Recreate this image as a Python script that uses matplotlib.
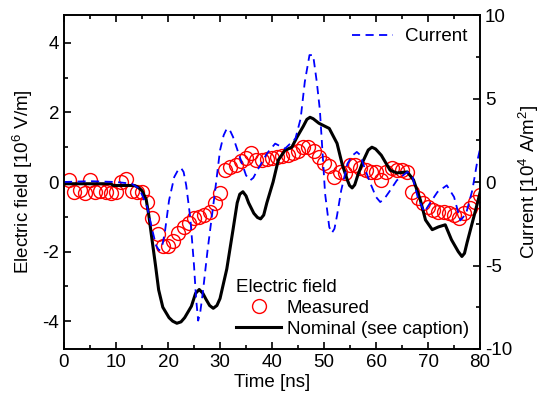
import matplotlib
matplotlib.use('Agg')
import matplotlib.pyplot as plt
from matplotlib.ticker import MultipleLocator

# measured electric field, 10^6 V/m, one point per ns
t_meas = list(range(1, 81))
e_meas = [0.05, -0.3, -0.22, -0.33, 0.05, -0.3, -0.25, -0.3, -0.33, -0.3,
          0.0, 0.08, -0.25, -0.3, -0.3, -0.57, -1.03, -1.5, -1.85, -1.85,
          -1.7, -1.46, -1.3, -1.17, -1.03, -1.0, -0.94, -0.86, -0.6, -0.31,
          0.34, 0.43, 0.49, 0.6, 0.68, 0.83, 0.63, 0.63, 0.65, 0.68,
          0.71, 0.74, 0.77, 0.83, 0.9, 1.0, 1.0, 0.9, 0.71, 0.54,
          0.45, 0.14, 0.3, 0.26, 0.49, 0.5, 0.4, 0.34, 0.29, 0.3,
          0.06, 0.3, 0.4, 0.34, 0.34, 0.29, -0.3, -0.46, -0.6, -0.72,
          -0.8, -0.86, -0.86, -0.88, -0.94, -1.03, -0.9, -0.75, -0.57, -0.37]

# nominal electric field
t_nom = [0, 9, 9.5, 13.5, 14.0, 14.5, 15.0, 15.8, 16.3, 17.0, 17.6, 18.2, 19.0, 20.2,
         20.9, 21.7, 22.5, 23.2, 24.5, 25.3, 26.0, 26.7, 27.3, 28.0, 28.7, 29.4,
         30.0, 31.3, 32.5, 33.3, 33.8, 34.4, 35.0, 35.5, 36.5, 37.2, 37.8, 38.4,
         39.0, 40.2, 41.2, 42.5, 43.8, 44.8, 46.0, 46.7, 47.3, 47.9, 49.0, 51.0,
         52.5, 53.5, 54.5, 54.9, 55.4, 55.9, 56.5, 57.5, 58.5, 59.2, 59.9, 61.0,
         62.7, 64.0, 66.0, 67.2, 68.5, 69.5, 70.8, 72.0, 73.3, 74.5, 75.8, 76.5,
         77.0, 77.5, 78.5, 79.5, 80.0]
e_nom = [-0.05, -0.05, -0.1, -0.1, -0.13, -0.18, -0.25, -0.5, -0.95, -1.74, -2.4, -3.1, -3.6, -3.9,
         -4.0, -4.06, -4.02, -3.9, -3.57, -3.2, -3.09, -3.2, -3.37, -3.55, -3.63, -3.55,
         -3.35, -2.5, -1.37, -0.6, -0.35, -0.28, -0.4, -0.6, -0.9, -1.02, -1.06, -0.95,
         -0.6, 0.0, 0.63, 0.91, 1.0, 1.29, 1.6, 1.8, 1.86, 1.82, 1.69, 1.54,
         1.11, 0.5, 0.05, -0.1, -0.17, -0.08, 0.2, 0.6, 0.92, 1.0, 0.95, 0.77,
         0.34, 0.26, 0.29, 0.06, -0.51, -1.09, -1.37, -1.29, -1.23, -1.66, -2.0, -2.14,
         -2.05, -1.74, -1.17, -0.6, -0.3]

# current density, 10^4 A/m^2
t_cur = [0, 5, 10, 13, 14.5, 16.0, 17.0, 17.7, 18.3, 18.9, 19.4, 20.2, 21.2, 21.9,
         22.5, 23.0, 23.5, 24.3, 25.0, 25.4, 25.8, 26.2, 26.7, 27.6, 29.0, 30.0,
         30.7, 31.3, 31.9, 32.5, 33.8, 35.0, 35.8, 36.4, 37.0, 39.0, 40.6, 42.5,
         44.5, 45.5, 46.3, 47.2, 47.9, 48.6, 49.2, 50.2, 51.0, 51.5, 52.0, 52.5,
         53.3, 54.5, 55.5, 56.3, 57.0, 57.5, 58.8, 60.0, 60.8, 61.6, 62.5, 64.0,
         66.0, 67.0, 68.0, 69.3, 70.5, 71.8, 73.6, 75.0, 76.2, 77.3, 78.5, 79.5, 80.0]
i_cur = [0, 0.05, 0.0, -0.1, -0.4, -1.5, -2.9, -3.8, -4.1, -3.8, -3.0, -1.1, 0.3, 0.7,
         0.84, 0.6, -0.2, -2.2, -5.0, -7.0, -8.3, -7.8, -6.6, -4.1, -0.66, 1.9,
         2.8, 3.2, 3.1, 2.7, 1.5, 0.4, 0.1, 0.25, 0.6, 1.7, 2.3, 2.0,
         2.6, 3.8, 6.0, 7.6, 7.6, 6.0, 4.3, -0.7, -2.7, -3.05, -2.8, -2.0,
         -0.5, 1.1, 1.6, 1.8, 1.6, 1.1, 0.0, -0.9, -1.2, -1.0, -0.6, 0.1,
         0.6, 0.3, -0.9, -1.8, -1.2, -0.6, -0.2, -0.9, -2.3, -1.9, -0.5, 1.3, 2.0]

plt.rcParams['font.family'] = ['Liberation Sans', 'DejaVu Sans']
plt.rcParams['font.size'] = 13.5
plt.rcParams['axes.unicode_minus'] = False
plt.rcParams['mathtext.fontset'] = 'custom'
plt.rcParams['mathtext.rm'] = 'Liberation Sans'

fig = plt.figure(figsize=(5.45, 4.09), dpi=100)
ax = fig.add_axes([0.1174, 0.1467, 0.7635, 0.8166])
ax2 = ax.twinx()

cur_line, = ax2.plot(t_cur, i_cur, color='blue', linestyle='--', dashes=(4.5, 3),
                     linewidth=1.3, label='Current')
meas_line, = ax.plot(t_meas, e_meas, linestyle='none', marker='o', markersize=10,
                     markerfacecolor='none', markeredgecolor='red', markeredgewidth=1,
                     label='Measured')
nom_line, = ax.plot(t_nom, e_nom, color='black', linewidth=2.2,
                    label='Nominal (see caption)')

ax.set_xlim(0, 80)
ax.set_ylim(-4.8, 4.8)
ax2.set_ylim(-10, 10)

ax.xaxis.set_major_locator(MultipleLocator(10))
ax.xaxis.set_minor_locator(MultipleLocator(5))
ax.yaxis.set_major_locator(MultipleLocator(2))
ax.yaxis.set_minor_locator(MultipleLocator(1))
ax2.yaxis.set_major_locator(MultipleLocator(5))
ax2.yaxis.set_minor_locator(MultipleLocator(2.5))

ax.tick_params(which='both', direction='in', top=True, right=False, width=1.2)
ax.tick_params(which='major', length=5)
ax.tick_params(which='minor', length=3)
ax2.tick_params(which='both', direction='in', width=1.2)
ax2.tick_params(which='major', length=5)
ax2.tick_params(which='minor', length=3)
for a in (ax, ax2):
    for s in a.spines.values():
        s.set_linewidth(1.2)

ax.set_xlabel('Time [ns]', labelpad=2)
ax.set_ylabel('Electric field [10$^6$ V/m]', labelpad=5)
ax2.set_ylabel('Current [10$^4$ A/m$^2$]', labelpad=3)

leg1 = ax2.legend(handles=[cur_line], loc='upper right', frameon=False,
                  handlelength=2.2, handletextpad=0.6, borderaxespad=0.3)
ax2.add_artist(leg1)
ax2.legend(handles=[meas_line, nom_line], loc='lower right', frameon=False,
           title='Electric field', title_fontsize=13.5, alignment='left',
           handlelength=2.4, handletextpad=0.3, labelspacing=0.2,
           borderaxespad=0.2)

plt.savefig('out.png', dpi=100)
plt.close()
